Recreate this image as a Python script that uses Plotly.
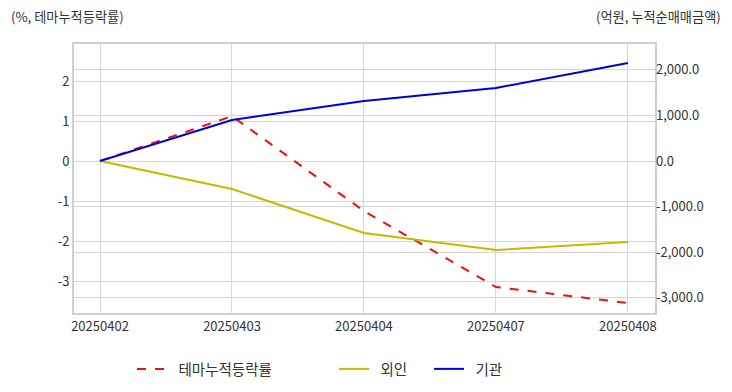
import plotly.graph_objects as go

dates = ["20250402", "20250403", "20250404", "20250407", "20250408"]
theme_rate = [0.0, 1.12, -1.25, -3.15, -3.55]
foreign = [0.0, -614, -1579, -1952, -1776]
institution = [0.0, 899, 1316, 1601, 2149]
series_names = ["테마누적등락률", "외인", "기관"]

FONT = "Noto Sans CJK KR"
L, R, T, B = 74, 77, 44, 79
W, H = 732, 392
PW = W - L - R
PAD = "\u00a0\u00a0"


def px_to_paper(px):
    return (px - L) / PW


fig = go.Figure()
fig.add_trace(go.Scatter(x=dates, y=theme_rate, name=PAD + series_names[0], mode="lines",
                         line=dict(color="#ee1111", width=2, dash="dash"), yaxis="y",
                         legend="legend"))
fig.add_trace(go.Scatter(x=dates, y=foreign, name=PAD + series_names[1], mode="lines",
                         line=dict(color="#c2bb00", width=2), yaxis="y2",
                         legend="legend2"))
fig.add_trace(go.Scatter(x=dates, y=institution, name=PAD + series_names[2], mode="lines",
                         line=dict(color="#0000dd", width=2), yaxis="y2",
                         legend="legend3"))

leg_common = dict(orientation="h", yanchor="middle", xanchor="left", y=-0.208,
                  font=dict(size=14.5, color="#333333"), bgcolor="rgba(0,0,0,0)")

fig.update_layout(
    width=W, height=H,
    margin=dict(l=L, r=R, t=T, b=B, autoexpand=False),
    plot_bgcolor="white", paper_bgcolor="white",
    font=dict(family=FONT, size=13, color="#333333"),
    showlegend=True,
    legend=dict(x=px_to_paper(132), **leg_common),
    legend2=dict(x=px_to_paper(334), **leg_common),
    legend3=dict(x=px_to_paper(429), **leg_common),
    xaxis=dict(type="category", range=[-0.197, 4.205], showgrid=True, automargin=False,
               gridcolor="#d6d6d6", gridwidth=1, showline=True, linecolor="#d0d0d0",
               linewidth=2, mirror=True, ticks="", tickfont=dict(size=13, color="#333333")),
    yaxis=dict(range=[-3.8, 2.925], tickvals=[-3, -2, -1, 0, 1, 2],
               ticktext=["-3", "-2", "-1", "0", "1", "2"], automargin=False,
               showgrid=True, gridcolor="#d6d6d6", zeroline=False, showline=True,
               linecolor="#d0d0d0", linewidth=2, mirror=True, ticks="",
               tickfont=dict(size=13, color="#333333")),
    yaxis2=dict(overlaying="y", side="right", range=[-3333, 2566], automargin=False,
                tickvals=[-3000, -2000, -1000, 0, 1000, 2000],
                ticktext=["-3,000.0", "-2,000.0", "-1,000.0", "0.0", "1,000.0", "2,000.0"],
                showgrid=True, gridcolor="#d6d6d6", zeroline=False, ticks="",
                tickfont=dict(size=13, color="#333333")),
    annotations=[
        dict(text="(%, 테마누적등락률)", xref="paper", yref="paper", x=px_to_paper(9), y=1.0,
             xanchor="left", yanchor="middle", yshift=28, showarrow=False,
             font=dict(size=13.2, color="#333333")),
        dict(text="(억원, 누적순매매금액)", xref="paper", yref="paper", x=px_to_paper(723), y=1.0,
             xanchor="right", yanchor="middle", yshift=28, showarrow=False,
             font=dict(size=13.2, color="#333333")),
    ],
)
fig.write_html("out.html", config={"displayModeBar": False},
               post_script="document.body.style.margin='0';document.body.style.overflow='hidden';")
